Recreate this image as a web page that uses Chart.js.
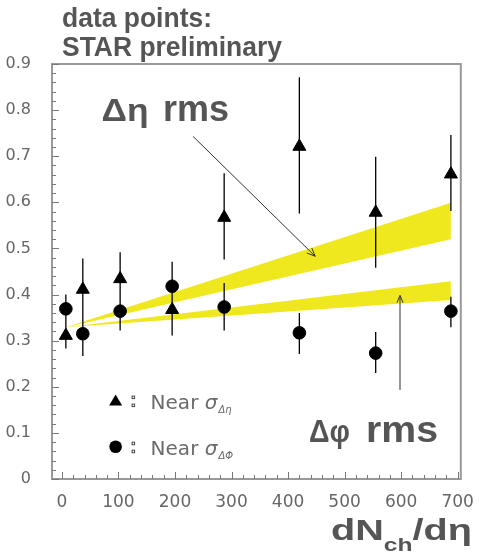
<!DOCTYPE html>
<html>
<head>
<meta charset="utf-8">
<script src="https://cdn.jsdelivr.net/npm/chart.js@4.4.0/dist/chart.umd.min.js"></script>
<style>
  html, body { margin: 0; padding: 0; background: #fff; }
  #wrap { width: 479px; height: 555px; position: relative; }
</style>
</head>
<body>
<div id="wrap"><canvas id="chart" width="479" height="555"></canvas></div>
<script>
// dNch/deta of each centrality bin
const multiplicity = [7, 37, 103, 195, 287, 420, 555, 688];

// near-side sigma of delta-eta (triangles) + error bar ends
const sigmaEta     = [0.311, 0.411, 0.434, 0.367, 0.567, 0.721, 0.578, 0.661];
const sigmaEtaLow  = [0.283, 0.345, 0.376, 0.311, 0.476, 0.576, 0.458, 0.581];
const sigmaEtaHigh = [0.340, 0.478, 0.492, 0.420, 0.663, 0.871, 0.699, 0.746];

// near-side sigma of delta-phi (circles) + error bar ends
const sigmaPhi     = [0.369, 0.315, 0.364, 0.418, 0.373, 0.317, 0.273, 0.364];
const sigmaPhiLow  = [0.340, 0.267, 0.322, 0.370, 0.322, 0.271, 0.230, 0.329];
const sigmaPhiHigh = [0.400, 0.360, 0.400, 0.471, 0.425, 0.360, 0.319, 0.395];

// yellow rms bands
const bandX         = [7, 688];
const etaBandTop    = [0.329, 0.599];
const etaBandBottom = [0.329, 0.520];
const phiBandTop    = [0.329, 0.429];
const phiBandBottom = [0.329, 0.388];

// axes
const xTicks = [0, 100, 200, 300, 400, 500, 600, 700];
const yTicks = [0, 0.1, 0.2, 0.3, 0.4, 0.5, 0.6, 0.7, 0.8, 0.9];
const xMinorStep = 20;
const yMinorStep = 0.02;

const YELLOW = '#f0e81e';
const TEXT_GREY = '#555';

const pts = (xs, ys) => xs.map((x, i) => ({ x: x, y: ys[i] }));

// annotations (data coordinates)
const etaArrow = { from: [232, 0.743], to: [448, 0.483] };
const phiArrow = { from: [598, 0.193], to: [598, 0.398] };

// helper: draw text pieces, squeezed/stretched horizontally to a width
function fitText(ctx, parts, left, baseline, width) {
    let natural = 0;
    parts.forEach(p => { ctx.font = p.font; natural += ctx.measureText(p.t).width; });
    const sx = width / natural;
    ctx.save();
    ctx.translate(left, baseline);
    ctx.scale(sx, 1);
    let x = 0;
    parts.forEach(p => {
        ctx.font = p.font;
        ctx.fillText(p.t, x, p.dy || 0);
        x += ctx.measureText(p.t).width;
    });
    ctx.restore();
}

function arrow(ctx, x1, y1, x2, y2, head) {
    const a = Math.atan2(y2 - y1, x2 - x1);
    ctx.beginPath();
    ctx.moveTo(x1, y1);
    ctx.lineTo(x2, y2);
    ctx.moveTo(x2 - head * Math.cos(a - 0.4), y2 - head * Math.sin(a - 0.4));
    ctx.lineTo(x2, y2);
    ctx.lineTo(x2 - head * Math.cos(a + 0.4), y2 - head * Math.sin(a + 0.4));
    ctx.stroke();
}

const decorations = {
    id: 'decorations',
    afterDatasetsDraw(chart) {
        const ctx = chart.ctx;
        const xs = chart.scales.x, ys = chart.scales.y;
        const px = v => xs.getPixelForValue(v);
        const py = v => ys.getPixelForValue(v);

        // error bars
        ctx.save();
        ctx.strokeStyle = '#000';
        ctx.lineWidth = 1.3;
        multiplicity.forEach((m, i) => {
            ctx.beginPath();
            ctx.moveTo(px(m), py(sigmaEtaLow[i]));
            ctx.lineTo(px(m), py(sigmaEtaHigh[i]));
            ctx.moveTo(px(m), py(sigmaPhiLow[i]));
            ctx.lineTo(px(m), py(sigmaPhiHigh[i]));
            ctx.stroke();
        });
        ctx.restore();
    },
    afterDraw(chart) {
        const ctx = chart.ctx;
        const area = chart.chartArea;
        const xs = chart.scales.x, ys = chart.scales.y;
        const px = v => xs.getPixelForValue(v);
        const py = v => ys.getPixelForValue(v);

        // frame
        ctx.save();
        ctx.strokeStyle = '#999';
        ctx.lineWidth = 2;
        ctx.strokeRect(area.left, area.top, area.right - area.left, area.bottom - area.top);

        // inward ticks
        ctx.strokeStyle = '#777';
        ctx.lineWidth = 1;
        ctx.beginPath();
        for (let v = 0; v <= 700 + 1e-6; v += xMinorStep) {
            const major = Math.abs(v % 100) < 1e-6;
            const x = Math.round(px(v)) + 0.5;
            ctx.moveTo(x, area.bottom);
            ctx.lineTo(x, area.bottom - (major ? 7 : 4));
        }
        for (let v = 0; v <= 0.9 + 1e-6; v += yMinorStep) {
            const major = Math.abs(v * 10 - Math.round(v * 10)) < 1e-6;
            const y = Math.round(py(v)) + 0.5;
            ctx.moveTo(area.left, y);
            ctx.lineTo(area.left + (major ? 7 : 4), y);
        }
        ctx.stroke();
        ctx.restore();

        // annotation arrows
        ctx.save();
        ctx.strokeStyle = '#333';
        ctx.lineWidth = 1;
        arrow(ctx, px(etaArrow.from[0]), py(etaArrow.from[1]), px(etaArrow.to[0]), py(etaArrow.to[1]), 9);
        arrow(ctx, px(phiArrow.from[0]), py(phiArrow.from[1]), px(phiArrow.to[0]), py(phiArrow.to[1]), 8);
        ctx.restore();

        // big labels
        ctx.save();
        ctx.fillStyle = TEXT_GREY;
        ctx.textBaseline = 'alphabetic';
        fitText(ctx, [{ t: 'data points:', font: 'bold 27px "Liberation Sans"' }], 62, 27, 150);
        fitText(ctx, [{ t: 'STAR preliminary', font: 'bold 27px "Liberation Sans"' }], 62, 56, 220);

        fitText(ctx, [{ t: 'Δη', font: 'bold 32px "Liberation Sans"' }], px(70), py(0.777), 47);
        fitText(ctx, [{ t: 'rms', font: 'bold 37px "Liberation Sans"' }], px(179), py(0.777), 66);
        fitText(ctx, [{ t: 'Δφ', font: 'bold 31px "Liberation Sans"' }], px(437), py(0.081), 41);
        fitText(ctx, [{ t: 'rms', font: 'bold 37px "Liberation Sans"' }], px(538), py(0.081), 72);

        fitText(ctx, [
            { t: 'dN', font: 'bold 29px "Liberation Sans"' },
            { t: 'ch', font: 'bold 18px "Liberation Sans"', dy: 11 },
            { t: '/dη', font: 'bold 29px "Liberation Sans"' }
        ], 331, 540, 141);
        ctx.restore();

        // legend
        ctx.save();
        const lx = px(95);
        const rows = [{ y: py(0.17), shape: 'triangle', sub: 'Δη' }, { y: py(0.07), shape: 'circle', sub: 'ΔΦ' }];
        rows.forEach(r => {
            ctx.fillStyle = '#000';
            ctx.beginPath();
            if (r.shape === 'triangle') {
                ctx.moveTo(lx, r.y - 6);
                ctx.lineTo(lx + 6.5, r.y + 5);
                ctx.lineTo(lx - 6.5, r.y + 5);
                ctx.closePath();
            } else {
                ctx.arc(lx, r.y, 6.3, 0, Math.PI * 2);
            }
            ctx.fill();
            ctx.strokeStyle = '#444';
            ctx.lineWidth = 1;
            ctx.strokeRect(lx + 16.5, r.y - 4.5, 2.5, 2.5);
            ctx.strokeRect(lx + 16.5, r.y + 3.5, 2.5, 2.5);
            ctx.fillStyle = '#6a6a6a';
            ctx.font = '20px "DejaVu Sans"';
            ctx.fillText('Near ', lx + 35, r.y + 8);
            const w = ctx.measureText('Near ').width;
            ctx.font = 'italic 20px "DejaVu Sans"';
            ctx.fillText('σ', lx + 35 + w, r.y + 8);
            const w2 = ctx.measureText('σ').width;
            ctx.font = 'italic 10px "DejaVu Sans"';
            ctx.fillText(r.sub, lx + 36 + w + w2, r.y + 12);
        });
        ctx.restore();
    }
};

new Chart(document.getElementById('chart').getContext('2d'), {
    type: 'scatter',
    data: {
        datasets: [
            { data: pts(bandX, etaBandTop), showLine: true, borderWidth: 0, pointRadius: 0, fill: false, order: 2 },
            { data: pts(bandX, etaBandBottom), showLine: true, borderWidth: 0, pointRadius: 0, fill: '-1', backgroundColor: YELLOW, order: 2 },
            { data: pts(bandX, phiBandTop), showLine: true, borderWidth: 0, pointRadius: 0, fill: false, order: 2 },
            { data: pts(bandX, phiBandBottom), showLine: true, borderWidth: 0, pointRadius: 0, fill: '-1', backgroundColor: YELLOW, order: 2 },
            { label: 'Near sigma deta', data: pts(multiplicity, sigmaEta), pointStyle: 'triangle', pointRadius: 7.5, backgroundColor: '#000', borderColor: '#000', order: 0 },
            { label: 'Near sigma dphi', data: pts(multiplicity, sigmaPhi), pointStyle: 'circle', pointRadius: 6.3, backgroundColor: '#000', borderColor: '#000', order: 0 }
        ]
    },
    options: {
        responsive: false,
        animation: false,
        layout: { padding: { top: 64, right: 13, left: 0, bottom: 0 } },
        plugins: { legend: { display: false }, tooltip: { enabled: false } },
        scales: {
            x: {
                type: 'linear',
                min: -17.5,
                max: 705.5,
                afterBuildTicks: s => { s.ticks = xTicks.map(v => ({ value: v })); },
                afterFit: s => { s.height = 76; },
                grid: { display: false },
                border: { display: false },
                ticks: { color: '#666', font: { family: 'DejaVu Sans', size: 17 }, padding: 5, maxRotation: 0 }
            },
            y: {
                min: 0,
                max: 0.9,
                afterBuildTicks: s => { s.ticks = yTicks.map(v => ({ value: v })); },
                afterFit: s => { s.width = 52; },
                grid: { display: false },
                border: { display: false },
                ticks: {
                    color: '#666',
                    font: { family: 'DejaVu Sans', size: 16 },
                    padding: 13,
                    callback: v => (v === 0 ? '0' : v.toFixed(1))
                }
            }
        }
    },
    plugins: [decorations]
});
</script>
</body>
</html>
